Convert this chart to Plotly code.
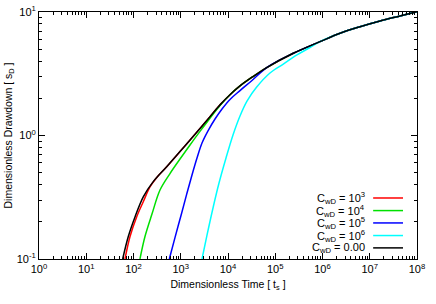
import plotly.graph_objects as go

# ---- data (dimensionless time, dimensionless drawdown) ----
t_c0 = [59.0, 77.6, 108, 161, 262, 504, 964, 1845, 2553, 4160, 6770, 11020, 17950,
        33810, 65900, 241000, 885000, 2.35e6, 6.22e6, 1.65e7, 4.37e7, 9.86e7]
s_c0 = [0.100, 0.152, 0.220, 0.319, 0.423, 0.559, 0.742, 0.987, 1.14, 1.42, 1.77, 2.14, 2.52,
        3.00, 3.55, 4.63, 5.75, 6.73, 7.60, 8.46, 9.29, 10.05]

t_c3 = [66.1, 84.4, 117, 161, 223, 299, 504, 964, 1845, 2553, 4160, 6770, 11020, 17950,
        33810, 65900, 241000, 885000, 2.35e6, 6.22e6, 1.65e7, 4.37e7, 9.86e7]
s_c3 = [0.100, 0.152, 0.220, 0.291, 0.383, 0.449, 0.559, 0.742, 0.987, 1.14, 1.42, 1.77, 2.14,
        2.52, 3.00, 3.55, 4.63, 5.75, 6.73, 7.60, 8.46, 9.29, 10.05]

t_c4 = [137, 175, 246, 364, 592, 964, 1570, 2553, 4160, 6770, 11020, 17950,
        33810, 65900, 241000, 885000, 2.35e6, 6.22e6, 1.65e7, 4.37e7, 9.86e7]
s_c4 = [0.100, 0.152, 0.231, 0.362, 0.492, 0.645, 0.838, 1.08, 1.38, 1.75, 2.14, 2.52,
        3.00, 3.55, 4.63, 5.75, 6.73, 7.60, 8.46, 9.29, 10.05]

t_c5 = [573, 755, 1047, 1356, 1730, 2208, 2818, 3774, 5309, 7470, 11020, 17950, 32210,
        65900, 241000, 885000, 2.35e6, 6.22e6, 1.65e7, 4.37e7, 9.86e7]
s_c5 = [0.100, 0.149, 0.236, 0.342, 0.479, 0.657, 0.869, 1.09, 1.36, 1.64, 1.96, 2.31, 2.79,
        3.55, 4.63, 5.75, 6.73, 7.60, 8.46, 9.29, 10.05]

t_c6 = [2818, 3594, 4817, 6457, 9075, 12760, 17950, 25230, 40490, 77440, 148000, 288400,
        543300, 885000, 2.35e6, 6.22e6, 1.65e7, 4.37e7, 9.86e7]
s_c6 = [0.100, 0.156, 0.259, 0.412, 0.657, 1.01, 1.44, 1.90, 2.47, 3.21, 3.79, 4.49,
        5.16, 5.75, 6.73, 7.60, 8.46, 9.29, 10.05]

series_names = ["C<sub>wD</sub> = 10<sup>3</sup>", "C<sub>wD</sub> = 10<sup>4</sup>",
                "C<sub>wD</sub> = 10<sup>5</sup>", "C<sub>wD</sub> = 10<sup>6</sup>",
                "C<sub>wD</sub> = 0.00"]
series_colors = ["#ff0000", "#00e000", "#0000ff", "#00ffff", "#000000"]
series_t = [t_c3, t_c4, t_c5, t_c6, t_c0]
series_s = [s_c3, s_c4, s_c5, s_c6, s_c0]

x_tickvals = [1e0, 1e1, 1e2, 1e3, 1e4, 1e5, 1e6, 1e7, 1e8]
x_ticktext = ["10<sup>%d</sup>" % i for i in range(9)]
y_tickvals = [1e-1, 1e0, 1e1]
y_ticktext = ["10<sup>-1</sup>", "10<sup>0</sup>", "10<sup>1</sup>"]

x_minor = [m * 10 ** d for d in range(0, 8) for m in range(2, 10)]
y_minor = [m * 10.0 ** d for d in range(-1, 1) for m in range(2, 10)]

FONT = "Liberation Sans, Arial, sans-serif"

fig = go.Figure()
for t, s, c, n in zip(series_t, series_s, series_colors, series_names):
    fig.add_trace(go.Scatter(x=t, y=s, mode="lines", name=n,
                             line=dict(color=c, width=1.5, shape="spline", smoothing=1.0),
                             showlegend=False))

# gnuplot-style key: text right-aligned, line sample on its right
rows_y = [0.247, 0.196, 0.146, 0.095, 0.045]
for yy, c, n in zip(rows_y, series_colors, series_names):
    fig.add_annotation(xref="paper", yref="paper", x=0.868, y=yy, text=n,
                       showarrow=False, xanchor="right", yanchor="middle",
                       font=dict(family=FONT, size=11, color="black"))
    fig.add_shape(type="line", xref="paper", yref="paper", x0=0.884, x1=0.963,
                  y0=yy, y1=yy, line=dict(color=c, width=1.5))

axis_common = dict(type="log", showgrid=False, zeroline=False, showline=True,
                   linecolor="black", linewidth=1, mirror="allticks", automargin=False,
                   ticks="inside", ticklen=6, tickcolor="black", tickwidth=1,
                   tickfont=dict(family=FONT, size=11, color="black"))

fig.update_xaxes(range=[0, 8], tickvals=x_tickvals, ticktext=x_ticktext,
                 minor=dict(tickvals=x_minor, ticks="inside", ticklen=3,
                            tickcolor="black", showgrid=False),
                 title=dict(text="Dimensionless Time [ t<sub>s</sub> ]",
                            font=dict(family=FONT, size=10.5, color="black"), standoff=6),
                 **axis_common)
fig.update_yaxes(range=[-1, 1], tickvals=y_tickvals, ticktext=y_ticktext,
                 minor=dict(tickvals=y_minor, ticks="inside", ticklen=3,
                            tickcolor="black", showgrid=False),
                 title=dict(text="Dimensionless Drawdown [ s<sub>D</sub> ]",
                            font=dict(family=FONT, size=10.5, color="black"), standoff=2),
                 **axis_common)

fig.update_layout(width=436, height=304, margin=dict(l=39, r=19, t=12, b=45),
                  paper_bgcolor="white", plot_bgcolor="white",
                  font=dict(family=FONT, size=10, color="black"))

fig.write_html("out.html", config={"displayModeBar": False},
               post_script="document.body.style.margin='0';document.body.style.overflow='hidden';")
